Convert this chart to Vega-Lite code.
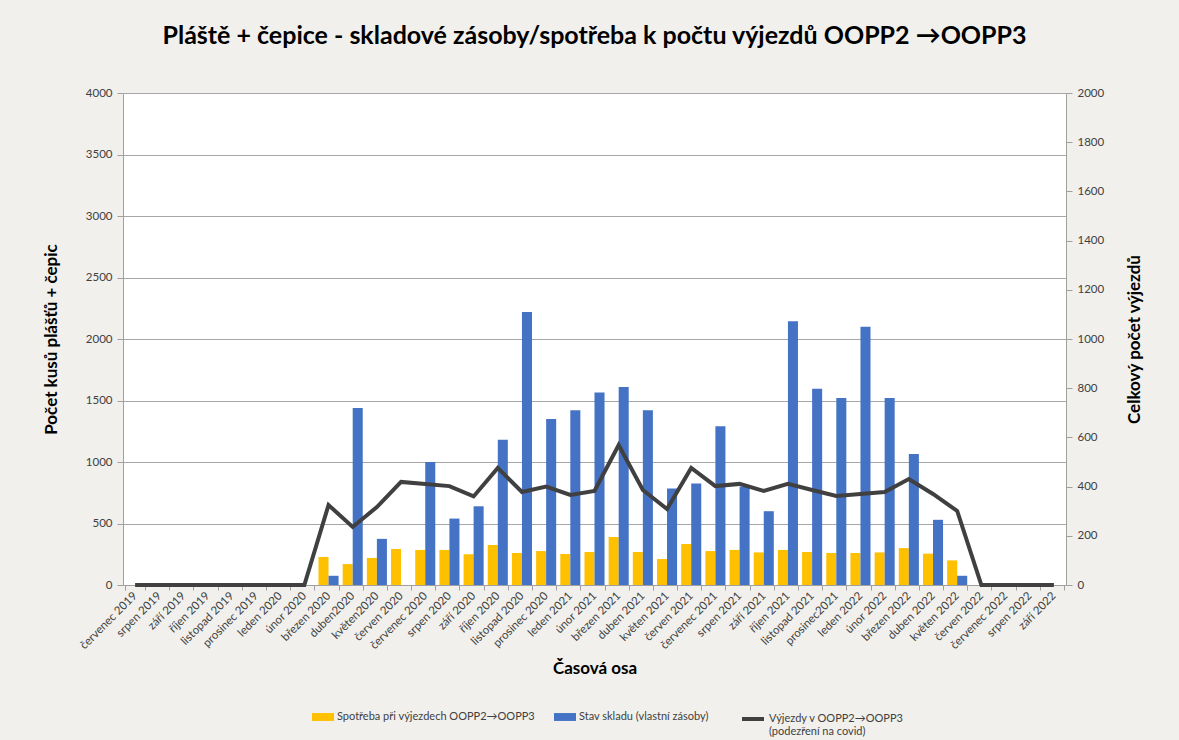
{
  "$schema": "https://vega.github.io/schema/vega-lite/v6.json",
  "width": 943,
  "height": 492,
  "autosize": {"type": "none"},
  "padding": {"left": 123, "top": 93, "right": 113, "bottom": 155},
  "background": "#f1f0ed",
  "title": {
    "text": "Pláště + čepice - skladové zásoby/spotřeba k počtu výjezdů OOPP2 →OOPP3",
    "font": "Lato",
    "fontSize": 25,
    "fontWeight": "bold",
    "color": "#000000",
    "anchor": "middle",
    "offset": 38
  },
  "config": {
    "font": "Lato",
    "view": {"fill": "white", "stroke": null},
    "axis": {
      "labelFont": "Lato",
      "labelFontSize": 11.5,
      "labelColor": "#404040",
      "titleFont": "Lato",
      "titleFontSize": 17,
      "titleFontWeight": "bold",
      "titleColor": "#000000",
      "domainColor": "#a0a0a0",
      "tickColor": "#a0a0a0",
      "gridColor": "#a6a6a6",
      "gridWidth": 1.2
    },
    "legend": {
      "labelFont": "Lato",
      "labelFontSize": 11,
      "labelColor": "#404040",
      "labelLimit": 0
    }
  },
  "data": {
    "values": [
      {"m": "červenec 2019", "spotreba": 0, "sklad": 0, "vyjezdy": 0},
      {"m": "srpen 2019", "spotreba": 0, "sklad": 0, "vyjezdy": 0},
      {"m": "září 2019", "spotreba": 0, "sklad": 0, "vyjezdy": 0},
      {"m": "říjen 2019", "spotreba": 0, "sklad": 0, "vyjezdy": 0},
      {"m": "listopad 2019", "spotreba": 0, "sklad": 0, "vyjezdy": 0},
      {"m": "prosinec 2019", "spotreba": 0, "sklad": 0, "vyjezdy": 0},
      {"m": "leden 2020", "spotreba": 0, "sklad": 0, "vyjezdy": 0},
      {"m": "únor 2020", "spotreba": 0, "sklad": 0, "vyjezdy": 0},
      {"m": "březen 2020", "spotreba": 228, "sklad": 75, "vyjezdy": 325},
      {"m": "duben2020", "spotreba": 170, "sklad": 1440, "vyjezdy": 236},
      {"m": "květen2020", "spotreba": 220, "sklad": 375, "vyjezdy": 317},
      {"m": "červen 2020", "spotreba": 293, "sklad": 0, "vyjezdy": 419},
      {"m": "červenec 2020", "spotreba": 285, "sklad": 1000, "vyjezdy": 411},
      {"m": "srpen 2020", "spotreba": 285, "sklad": 540, "vyjezdy": 402},
      {"m": "září 2020", "spotreba": 250, "sklad": 640, "vyjezdy": 360},
      {"m": "říjen 2020", "spotreba": 325, "sklad": 1180, "vyjezdy": 476},
      {"m": "listopad 2020", "spotreba": 260, "sklad": 2220, "vyjezdy": 378},
      {"m": "prosinec 2020", "spotreba": 276, "sklad": 1350, "vyjezdy": 400},
      {"m": "leden 2021", "spotreba": 252, "sklad": 1420, "vyjezdy": 366},
      {"m": "únor 2021", "spotreba": 268, "sklad": 1565, "vyjezdy": 382},
      {"m": "březen 2021", "spotreba": 390, "sklad": 1610, "vyjezdy": 569},
      {"m": "duben 2021", "spotreba": 268, "sklad": 1420, "vyjezdy": 386},
      {"m": "květen 2021", "spotreba": 211, "sklad": 785, "vyjezdy": 309},
      {"m": "červen 2021", "spotreba": 333, "sklad": 825, "vyjezdy": 476},
      {"m": "červenec 2021", "spotreba": 276, "sklad": 1290, "vyjezdy": 402},
      {"m": "srpen 2021", "spotreba": 285, "sklad": 800, "vyjezdy": 411},
      {"m": "září 2021", "spotreba": 265, "sklad": 600, "vyjezdy": 382},
      {"m": "říjen 2021", "spotreba": 285, "sklad": 2145, "vyjezdy": 411},
      {"m": "listopad 2021", "spotreba": 268, "sklad": 1595, "vyjezdy": 386},
      {"m": "prosinec2021", "spotreba": 260, "sklad": 1520, "vyjezdy": 362},
      {"m": "leden 2022", "spotreba": 260, "sklad": 2100, "vyjezdy": 370},
      {"m": "únor 2022", "spotreba": 265, "sklad": 1520, "vyjezdy": 378},
      {"m": "březen 2022", "spotreba": 300, "sklad": 1065, "vyjezdy": 431},
      {"m": "duben 2022", "spotreba": 255, "sklad": 530, "vyjezdy": 370},
      {"m": "květen 2022", "spotreba": 200, "sklad": 75, "vyjezdy": 301},
      {"m": "červen 2022", "spotreba": 0, "sklad": 0, "vyjezdy": 0},
      {"m": "červenec 2022", "spotreba": 0, "sklad": 0, "vyjezdy": 0},
      {"m": "srpen 2022", "spotreba": 0, "sklad": 0, "vyjezdy": 0},
      {"m": "září 2022", "spotreba": 0, "sklad": 0, "vyjezdy": 0}
    ]
  },
  "encoding": {
    "x": {
      "field": "m",
      "type": "nominal",
      "sort": null,
      "scale": {"paddingInner": 0.17, "paddingOuter": 0.085},
      "axis": {
        "title": "Časová osa",
        "labelAngle": -45,
        "labelAlign": "right",
        "labelBaseline": "middle",
        "labelPadding": 4,
        "tickBand": "extent",
        "tickSize": 5,
        "titlePadding": 10
      }
    }
  },
  "layer": [
    {
      "transform": [{"fold": ["spotreba", "sklad"], "as": ["serie", "hodnota"]}],
      "mark": {"type": "bar"},
      "encoding": {
        "xOffset": {"field": "serie", "type": "nominal", "sort": ["spotreba", "sklad"]},
        "y": {
          "field": "hodnota",
          "type": "quantitative",
          "scale": {"domain": [0, 4000], "nice": false},
          "axis": {
            "title": "Počet kusů plášťů + čepic",
            "format": "d",
            "values": [0, 500, 1000, 1500, 2000, 2500, 3000, 3500, 4000],
            "tickSize": 6,
            "labelPadding": 5,
            "titlePadding": 25,
            "grid": true
          }
        },
        "fill": {
          "field": "serie",
          "type": "nominal",
          "scale": {"domain": ["spotreba", "sklad"], "range": ["#FFC000", "#4472C4"]},
          "legend": {
            "title": null,
            "orient": "none",
            "legendX": 189,
            "legendY": 613,
            "direction": "horizontal",
            "symbolType": "M-1,-0.36H1V0.36H-1Z",
            "symbolSize": 484,
            "symbolStrokeWidth": 0,
            "columnPadding": 18,
            "labelOffset": 3,
            "labelExpr": "datum.label == 'spotreba' ? 'Spotřeba při výjezdech OOPP2→OOPP3' : 'Stav skladu  (vlastní zásoby)'"
          }
        }
      }
    },
    {
      "mark": {"type": "line", "color": "#404040", "strokeWidth": 4},
      "encoding": {
        "y": {
          "field": "vyjezdy",
          "type": "quantitative",
          "scale": {"domain": [0, 2000], "nice": false},
          "axis": {
            "orient": "right",
            "title": "Celkový počet výjezdů",
            "titleAngle": -90,
            "format": "d",
            "values": [0, 200, 400, 600, 800, 1000, 1200, 1400, 1600, 1800, 2000],
            "tickSize": 6,
            "labelPadding": 5,
            "titlePadding": 40,
            "grid": false
          }
        },
        "stroke": {
          "datum": "Výjezdy v OOPP2→OOPP3",
          "scale": {"range": ["#404040"]},
          "legend": {
            "title": null,
            "orient": "none",
            "legendX": 617,
            "legendY": 613,
            "symbolType": "stroke",
            "symbolSize": 484,
            "symbolStrokeWidth": 4,
            "labelOffset": 3,
            "labelExpr": "['Výjezdy v OOPP2→OOPP3', '(podezření na covid)']"
          }
        }
      }
    }
  ],
  "resolve": {"scale": {"y": "independent"}}
}
